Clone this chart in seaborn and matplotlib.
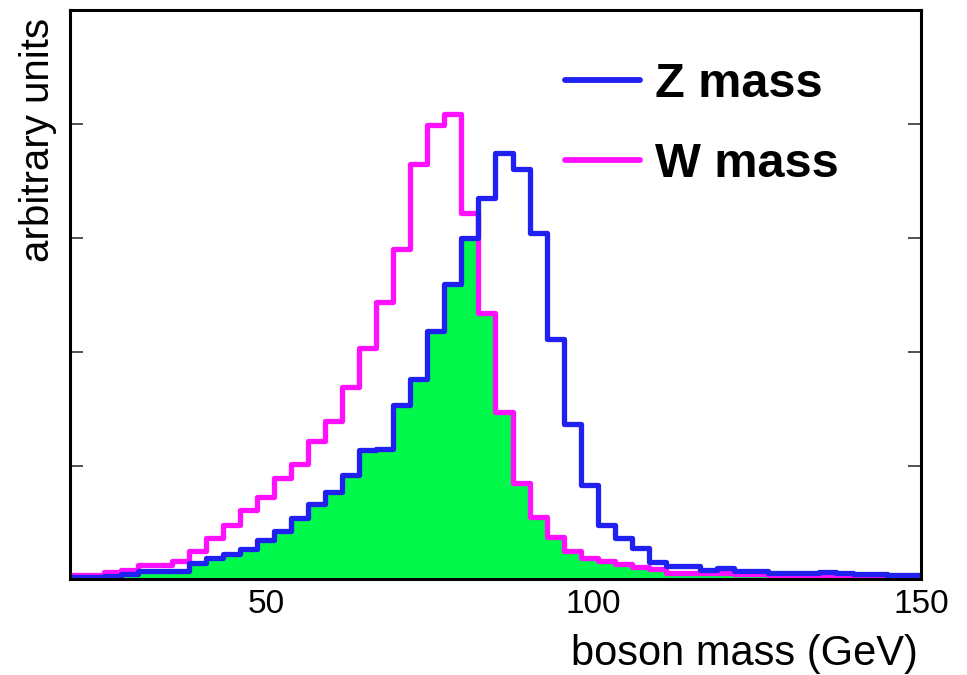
import matplotlib
matplotlib.use('Agg')
import matplotlib.pyplot as plt
from matplotlib.lines import Line2D
import numpy as np
import pandas as pd
import seaborn as sns

# bin layout: 50 bins from 20 to 150 GeV (a plain list: seaborn compares bins to "auto")
bin_edges = list(np.linspace(20, 150, 51))
bin_centers = [0.5 * (a + b) for a, b in zip(bin_edges[:-1], bin_edges[1:])]

# bin contents (arbitrary units)
z_mass = [0.019, 0.019, 0.030, 0.048, 0.074, 0.074, 0.074, 0.142, 0.186, 0.223,
          0.264, 0.346, 0.428, 0.541, 0.667, 0.765, 0.915, 1.134, 1.149, 1.528,
          1.762, 2.179, 2.594, 3.002, 3.347, 3.746, 3.600, 3.046, 2.112, 1.368,
          0.827, 0.477, 0.365, 0.273, 0.156, 0.121, 0.121, 0.083, 0.103, 0.074,
          0.074, 0.060, 0.060, 0.055, 0.068, 0.055, 0.050, 0.050, 0.039, 0.039]
w_mass = [0.039, 0.039, 0.063, 0.083, 0.127, 0.127, 0.165, 0.250, 0.360, 0.477,
          0.614, 0.725, 0.895, 1.011, 1.213, 1.388, 1.688, 2.030, 2.433, 2.900,
          3.650, 3.986, 4.088, 3.221, 2.336, 1.469, 0.848, 0.550, 0.375, 0.252,
          0.186, 0.160, 0.135, 0.112, 0.089, 0.060, 0.060, 0.055, 0.055, 0.050,
          0.050, 0.039, 0.039, 0.033, 0.033, 0.039, 0.039, 0.025, 0.025, 0.025]
labels = ['Z mass', 'W mass']

z_color = '#2020f0'
w_color = '#ff10ff'
overlap_color = '#00f94a'

df = pd.DataFrame({'mass': bin_centers, 'z': z_mass, 'w': w_mass})
# overlap of the two distributions, filled green
df['overlap'] = np.minimum(df['z'], df['w'])

sns.set_style('white')
plt.rcParams['font.family'] = ['Liberation Sans', 'DejaVu Sans']
plt.rcParams['text.color'] = 'black'
plt.rcParams['axes.labelcolor'] = 'black'
plt.rcParams['xtick.color'] = 'black'
plt.rcParams['ytick.color'] = 'black'

fig = plt.figure(figsize=(9.67, 6.75), dpi=100)
ax = fig.add_axes([0.0724, 0.1415, 0.880, 0.8437])

sns.histplot(data=df, x='mass', weights='overlap', bins=bin_edges, element='step',
             fill=True, color=overlap_color, alpha=1, linewidth=0, ax=ax)
sns.histplot(data=df, x='mass', weights='w', bins=bin_edges, element='step',
             fill=False, color=w_color, linewidth=3.8, ax=ax)
sns.histplot(data=df, x='mass', weights='z', bins=bin_edges, element='step',
             fill=False, color=z_color, linewidth=3.8, ax=ax)

ax.set_xlim(20, 150)
ax.set_ylim(0, 5)
ax.set_xticks([50, 100, 150])
ax.set_yticks([1, 2, 3, 4])
ax.set_yticklabels([])
ax.tick_params(axis='x', labelsize=24, length=0, pad=7, labelcolor='black')
ax.tick_params(axis='y', direction='in', length=9.5, width=1.2, color='#333333',
               left=True, right=True)

for s in ax.spines.values():
    s.set_linewidth(2.2)
    s.set_color('black')

ax.set_xlabel('boson mass (GeV)', fontsize=30, loc='right', color='black')
ax.xaxis.set_label_coords(0.9965, -0.095)
ax.set_ylabel('arbitrary units', fontsize=29, loc='top', color='black')
ax.yaxis.set_label_coords(-0.015, 0.986)

handles = [Line2D([], [], color=z_color, linewidth=4.2),
           Line2D([], [], color=w_color, linewidth=4.2)]
leg = ax.legend(handles, labels, loc='upper left', bbox_to_anchor=(0.582, 0.908),
                frameon=False, borderpad=0, borderaxespad=0,
                handlelength=1.54, handletextpad=0.31, labelspacing=0.72,
                prop={'size': 35, 'weight': 'bold'})
for t in leg.get_texts():
    t.set_color('black')

ax.grid(False)
fig.savefig('out.png', dpi=100)
